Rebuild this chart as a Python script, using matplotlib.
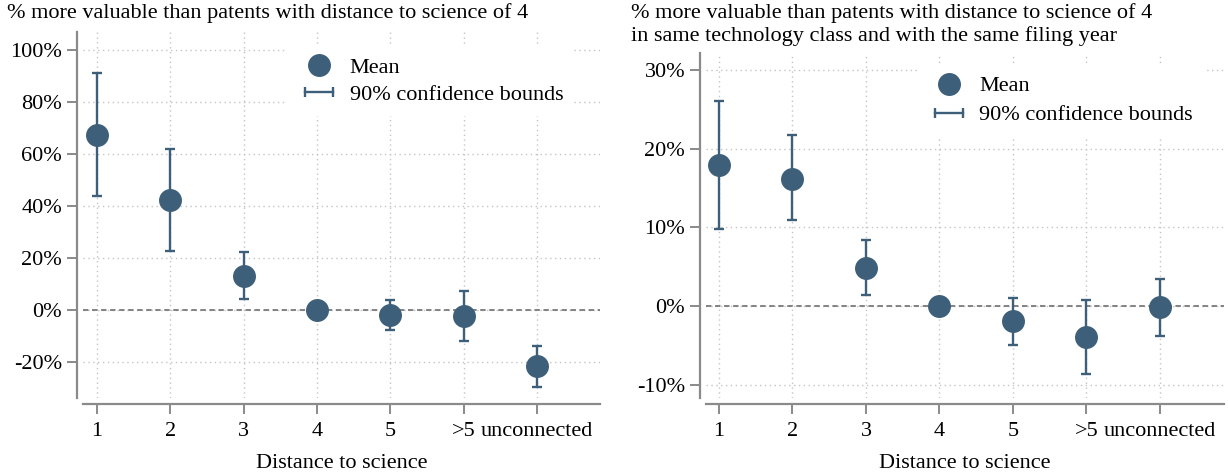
import numpy as np
import matplotlib
matplotlib.use("Agg")
import matplotlib.pyplot as plt
from matplotlib.lines import Line2D
from matplotlib.legend_handler import HandlerLine2D

plt.rcParams['font.family'] = ['Liberation Serif', 'DejaVu Serif']

categories = ['1', '2', '3', '4', '5', '>5', 'unconnected']

# panel 1: raw comparison
mean_a = [67.3, 42.3, 13.1, 0.0, -1.9, -2.3, -21.4]
upper_a = [91.0, 61.8, 22.4, 0.0, 3.8, 7.2, -13.7]
lower_a = [44.0, 22.9, 4.1, 0.0, -7.8, -11.9, -29.4]
yticks_a = [-20, 0, 20, 40, 60, 80, 100]

# panel 2: same tech class and filing year
mean_b = [17.9, 16.2, 4.9, 0.0, -1.9, -3.9, -0.1]
upper_b = [26.0, 21.7, 8.4, 0.0, 1.1, 0.8, 3.5]
lower_b = [9.8, 10.9, 1.5, 0.0, -4.9, -8.5, -3.8]
yticks_b = [-10, 0, 10, 20, 30]

title_a = "% more valuable than patents with distance to science of 4"
title_b = ("% more valuable than patents with distance to science of 4\n"
           "in same technology class and with the same filing year")

col = '#3d5f7a'
grey = '#8a8a8a'
fs = 16

fig = plt.figure(figsize=(12.28, 4.72), dpi=100)
ax1 = fig.add_axes([0.0676, 0.1568, 0.4210, 0.7754])
ax2 = fig.add_axes([0.5749, 0.1568, 0.4218, 0.7309])


def draw(ax, mean, lo, hi, yticks, xlim, ylim, leg_anchor, spacing):
    x = np.arange(1, len(categories) + 1)
    mean = np.array(mean)
    yerr = np.array([mean - np.array(lo), np.array(hi) - mean])
    has_err = (yerr.sum(axis=0) > 0)
    ax.axhline(0, color='#7a7a7a', lw=1.3, ls=(0, (3, 2)), zorder=1)
    ax.errorbar(x[has_err], mean[has_err], yerr=yerr[:, has_err], fmt='none',
                ecolor=col, elinewidth=1.7, capsize=3.7, capthick=1.7, zorder=3)
    ax.plot(x, mean, 'o', color=col, ms=15.5, zorder=4)
    ax.set_xlim(*xlim)
    ax.set_ylim(*ylim)
    ax.set_xticks(x)
    ax.set_xticklabels(categories)
    ax.set_yticks(yticks)
    ax.set_yticklabels([f"{t}%" for t in yticks])
    ax.grid(True, ls=(0, (1, 2.5)), color='#c4c4c4', lw=1)
    ax.set_axisbelow(True)
    for s in ['top', 'right']:
        ax.spines[s].set_visible(False)
    for s in ['left', 'bottom']:
        ax.spines[s].set_color(grey)
        ax.spines[s].set_linewidth(1.6)
        ax.spines[s].set_position(('outward', 4))
    ax.tick_params(length=7, width=1.4, color=grey, labelsize=fs, pad=4)
    ax.tick_params(axis='x', pad=6)
    ax.set_xlabel("Distance to science", fontsize=fs, labelpad=10)

    h_mean = Line2D([], [], ls='none', marker='o', color=col, ms=15.5)
    h_ci = Line2D([], [], color=col, lw=1.7, marker='|', ms=7.5, mew=1.7)
    leg = ax.legend([h_mean, h_ci], ['Mean', '90% confidence bounds'],
                    loc='upper left', bbox_to_anchor=leg_anchor,
                    fontsize=fs, frameon=True, fancybox=False,
                    handlelength=1.85, handletextpad=0.45, labelspacing=spacing,
                    borderpad=0.5,
                    handler_map={h_mean: HandlerLine2D(numpoints=1),
                                 h_ci: HandlerLine2D(numpoints=2)})
    leg.get_frame().set_facecolor('white')
    leg.get_frame().set_edgecolor('none')
    leg.get_frame().set_alpha(1)


draw(ax1, mean_a, lower_a, upper_a, yticks_a, (0.81, 7.86), (-33.8, 106.9),
     (0.374, 0.991), 0.28)
draw(ax2, mean_b, lower_b, upper_b, yticks_b, (0.823, 7.87), (-11.6, 32.1),
     (0.386, 0.998), 0.38)

fig.text(0.006, 0.993, title_a, fontsize=fs, va='top', ha='left')
fig.text(0.514, 0.993, title_b, fontsize=fs, va='top', ha='left',
         linespacing=1.2)

fig.savefig("out.png", dpi=100)
